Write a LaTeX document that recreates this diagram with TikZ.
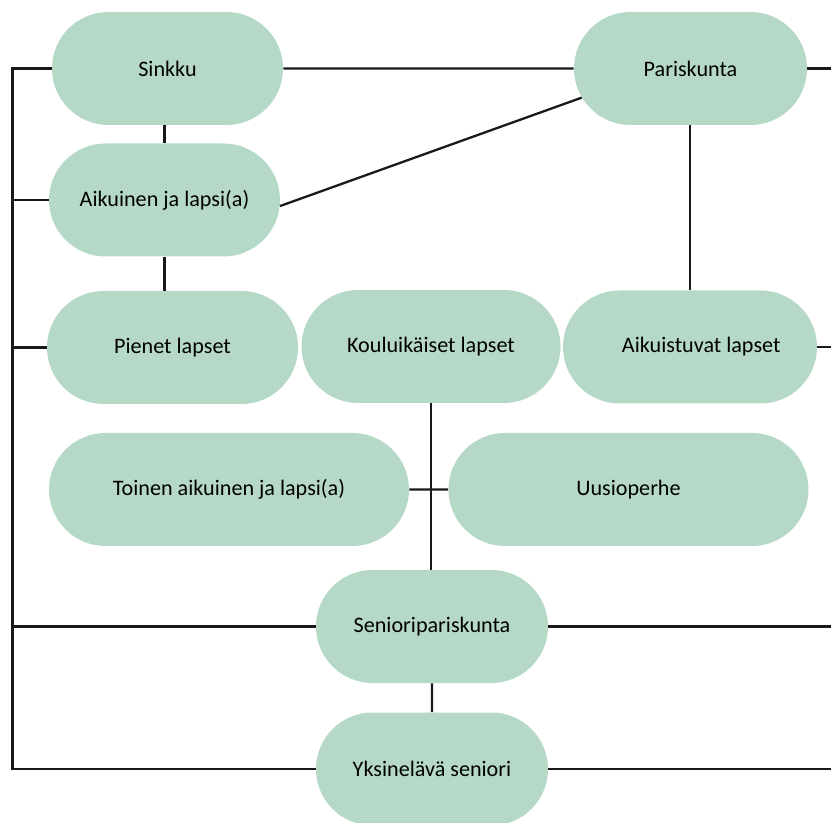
\documentclass[tikz,border=0pt]{standalone}
\usepackage{fontspec}
\setmainfont{Carlito}
\usepackage{tikz}
\usetikzlibrary{shapes.misc}
\definecolor{vaalea}{RGB}{182,217,199}
\begin{document}
\begin{tikzpicture}[
        perhe/.style={rounded rectangle, fill=vaalea, minimum height=2.26cm,
                      inner sep=0pt, font=\fontsize{12.6}{15}\selectfont},
        yhteys/.style={line width=1.3pt, black!90}]
                              \useasboundingbox (0,0) rectangle (16.62,-16.46);

                              % Nodes
                              \node[perhe, minimum width=4.62cm] (sinkku) at (3.35,-1.37) {Sinkku};
                              \node[perhe, minimum width=4.66cm] (pari) at (13.81,-1.37) {Pariskunta};
                              \node[perhe, minimum width=4.62cm] (aikuinen) at (3.29,-4.0) {Aikuinen ja lapsi(a)};
                              \node[perhe, minimum width=5.02cm] (pienet) at (3.45,-6.95) {Pienet lapset};
                              \node[perhe, minimum width=5.18cm] (koulu) at (8.62,-6.93) {Kouluikäiset lapset};
                              \node[perhe, minimum width=5.08cm] (aikuistuvat) at (13.8,-6.94) {\hspace{0.45cm}Aikuistuvat lapset};
                              \node[perhe, minimum width=7.2cm] (toinen) at (4.58,-9.79) {Toinen aikuinen ja lapsi(a)};
                              \node[perhe, minimum width=7.2cm] (uusio) at (12.57,-9.79) {Uusioperhe};
                              \node[perhe, minimum width=4.64cm] (seniori) at (8.64,-12.53) {Senioripariskunta};
                              \node[perhe, minimum width=4.64cm] (yksin) at (8.64,-15.38) {Yksinelävä seniori};

                              % Edges of the picture
                              \coordinate (vasen) at (0.25,0);
                              \coordinate (oikea) at (16.62,0);

                              % Left bus
                              \draw[yhteys] (sinkku.west) -| (vasen |- yksin.west) -- (yksin.west);
                              \draw[yhteys] (aikuinen.west) -- (aikuinen.west -| vasen);
                              \draw[yhteys] (pienet.west) -- (pienet.west -| vasen);
                              \draw[yhteys] (seniori.west) -- (seniori.west -| vasen);

                              % Right stubs
                              \draw[yhteys] (pari.east) -- (pari.east -| oikea);
                              \draw[yhteys] (aikuistuvat.east) -- (aikuistuvat.east -| oikea);
                              \draw[yhteys] (seniori.east) -- (seniori.east -| oikea);
                              \draw[yhteys] (yksin.east) -- (yksin.east -| oikea);

                              % Links between nodes
                              \draw[yhteys] (sinkku) -- (pari);
                              \draw[yhteys] (aikuinen.north) -- (aikuinen.north |- sinkku.south);
                              \draw[yhteys] (aikuinen.south) -- (aikuinen.south |- pienet.north);
                              \draw[yhteys] (aikuinen.-3) -- (pari.195);
                              \draw[yhteys] (aikuistuvat.north) -- (aikuistuvat.north |- pari.south);
                              \draw[yhteys] (koulu.south) -- (koulu.south |- seniori.north);
                              \draw[yhteys] (toinen) -- (uusio);
                              \draw[yhteys] (seniori) -- (yksin);
                        \end{tikzpicture}
\end{document}
